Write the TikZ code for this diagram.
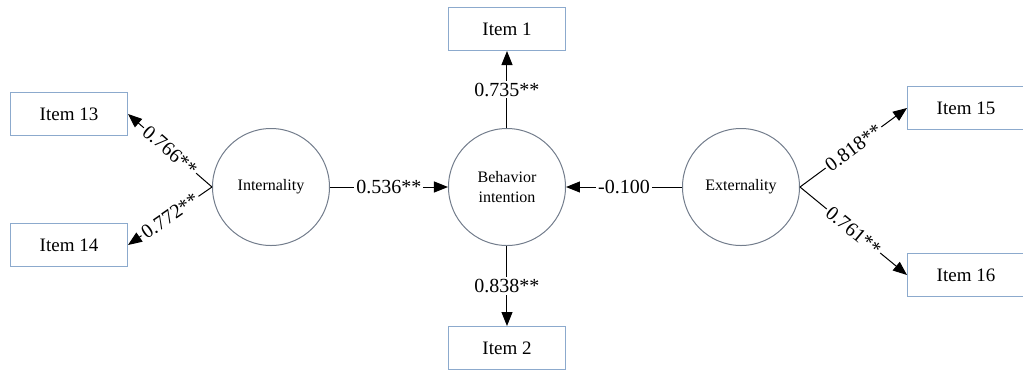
\documentclass[tikz,border=0pt]{standalone}
\usepackage{fontspec}
\setmainfont{Liberation Serif}
\usetikzlibrary{arrows.meta, positioning}

\definecolor{boxblue}{RGB}{140,170,205}
\definecolor{circgray}{RGB}{115,125,140}

\begin{document}
\begin{tikzpicture}[
    >={Triangle[length=7pt,width=5.5pt]},
    line width=0.5pt,
    item/.style={draw=boxblue, rectangle, minimum height=21.5pt, minimum width=58.5pt, font=\fontsize{9.5}{11}\selectfont},
    latent/.style={draw=circgray, circle, minimum size=58.5pt, inner sep=0pt, align=center, font=\fontsize{8}{10}\selectfont},
    coef/.style={fill=white, inner sep=1pt, font=\fontsize{10}{12}\selectfont}
  ]
  \useasboundingbox (-253.5pt,-92pt) rectangle (258pt,93.5pt);

  % --- latent variables ---
  \node[latent] (beh) {Behavior\\ intention};
  \node[latent, left=59pt of beh]  (int) {Internality};
  \node[latent, right=58pt of beh] (ext) {Externality};

  % --- observed items ---
  \node[item, above=38.5pt of beh] (item1) {Item 1};
  \node[item, below=40pt of beh]   (item2) {Item 2};
  \node[item, left=42pt of int, yshift=36.5pt]   (item13) {Item 13};
  \node[item, left=42pt of int, yshift=-29pt]    (item14) {Item 14};
  \node[item, right=53.5pt of ext, yshift=39.5pt] (item15) {Item 15};
  \node[item, right=53.5pt of ext, yshift=-44pt]  (item16) {Item 16};

  % --- loadings ---
  \draw[->] (beh) -- node[coef]{0.735**} (item1);
  \draw[->] (beh) -- node[coef]{0.838**} (item2);
  \draw[->] (int.west) -- node[coef, sloped]{0.766**} (item13.east);
  \draw[->] (int.west) -- node[coef, sloped]{0.772**} (item14.east);
  \draw[->] (ext.east) -- node[coef, sloped]{0.818**} (item15.west);
  \draw[->] (ext.east) -- node[coef, sloped]{0.761**} (item16.west);

  % --- paths ---
  \draw[->] (int) -- node[coef]{0.536**} (beh);
  \draw[->] (ext) -- node[coef]{-0.100} (beh);
\end{tikzpicture}
\end{document}
